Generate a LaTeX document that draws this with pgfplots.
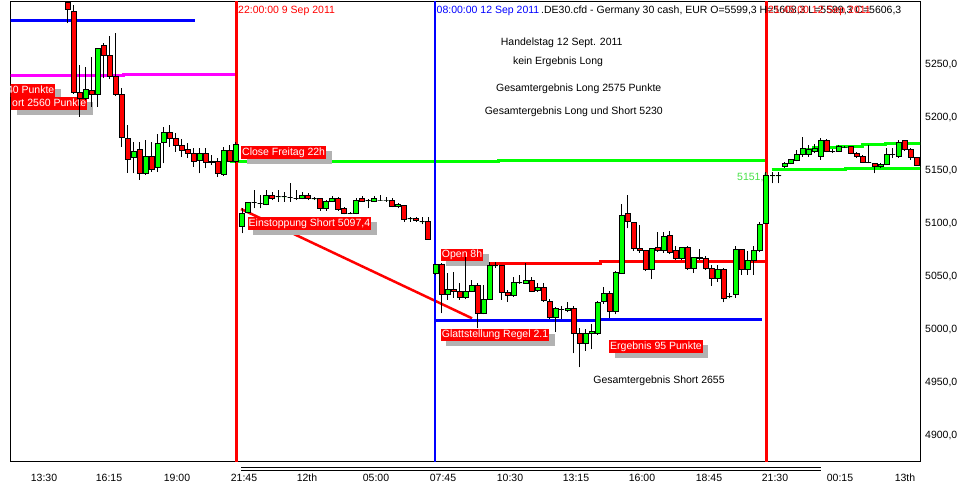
\documentclass[border=0pt]{standalone}
\usepackage{pgfplots}
\usepackage{pgfplotstable}
\pgfplotsset{compat=1.18}
\usepackage{fontspec}
\setmainfont{Liberation Sans}
\usetikzlibrary{shadows}
\definecolor{cgreen}{RGB}{0,255,0}
\definecolor{cred}{RGB}{255,0,0}
\definecolor{cblue}{RGB}{0,0,255}
\definecolor{cmag}{RGB}{255,0,255}
\definecolor{cshadow}{RGB}{178,178,178}
\definecolor{lgreen}{RGB}{70,225,70}
\pgfdeclareplotmark{nothing}{}
\newcommand\tofixed[1]{\begingroup\pgfkeys{/pgf/fpu=true,/pgf/fpu/output format=fixed}\pgfmathparse{#1}\xdef\tmpfixed{\pgfmathresult}\endgroup\let#1\tmpfixed}

\pgfplotstableread{
x o h l c
67.7 5308.5 5309 5288.7 5301.3
73.7 5299.7 5306 5222 5223.6
79.7 5223 5249.4 5200.6 5217.3
85.7 5217.3 5247.8 5216.4 5225.8
91.7 5224.9 5257.2 5210 5221.1
97.7 5221.1 5265.1 5210 5265.1
103.7 5267.3 5270.4 5237 5257.9
109.7 5257.9 5276.7 5236 5238.3
115.7 5238.3 5279.3 5220 5221.1
121.7 5221.7 5227.4 5172.3 5181.2
127.7 5180.2 5192.8 5147.8 5159.8
133.7 5162.3 5177 5147.2 5167.6
139.7 5169.2 5177 5140.9 5146.6
145.7 5147.2 5178.6 5145.6 5163.5
151.7 5163.5 5177 5148.7 5151.1
157.7 5152.5 5184.3 5148.7 5175.5
163.7 5176 5191.2 5156.6 5185.9
169.7 5185.9 5192.8 5172.3 5180.2
175.7 5180.2 5184.9 5167.6 5173.2
181.7 5173.2 5179.6 5162.9 5168.5
187.7 5169.2 5175.5 5161.4 5166.1
193.7 5165.4 5171.4 5153.4 5158.2
199.7 5159.1 5170.8 5147.2 5165.4
205.7 5165.4 5170.8 5151.9 5157.6
211.7 5158.2 5164.5 5155 5157.6
217.7 5158.2 5162 5144 5146.6
223.7 5145.6 5172.3 5145 5168.5
229.7 5168.5 5174 5158 5158.2
235.7 5158.2 5177 5157 5173.9
242 5096.8 5114.2 5090.6 5109.5
248 5110.4 5120.4 5110 5119.9
254 5119.9 5131.5 5114.2 5119.9
260 5118.9 5126.7 5114.2 5118.9
266 5117.3 5131.5 5117 5126.1
272 5126.1 5129.9 5122 5123.6
278 5125.1 5131.5 5120.4 5125.1
284 5125.1 5129.9 5120.4 5125.1
290 5124.5 5137.8 5120.4 5124.5
296 5123.6 5131.5 5122 5123.6
302 5123 5129.9 5122.5 5126.7
308 5126.7 5128.3 5122 5123
314 5123 5124.5 5122 5123
320 5123 5123.6 5111.7 5114.2
326 5114.2 5122 5111.7 5120.4
332 5120.4 5126.1 5120 5123
338 5123 5124.9 5111.7 5113.5
344 5114.2 5115.8 5108.5 5108.8
350 5109.5 5111 5108.5 5109.5
356 5108.8 5124 5108.5 5122
362 5123 5126.1 5120 5120.4
368 5121.1 5123 5114.2 5121.1
374 5120.4 5126.1 5120 5123
380 5122 5127 5121.5 5122
386 5122 5125 5120.4 5122
392 5122 5124 5115 5115.7
398 5115.7 5119 5114 5118
404 5116.6 5117.7 5101.5 5103.2
410 5104.1 5105.5 5101.5 5104.1
416 5104.1 5105.5 5101.5 5102.2
422 5101.5 5105.5 5099 5101.5
428 5101.5 5105.5 5084.3 5085.2
435.7 5052.2 5062 5051 5061.6
441.7 5061.6 5062.3 5015.1 5032.4
447.7 5032.4 5052.9 5027.7 5037.8
453.7 5037.8 5054.4 5029.6 5035.5
459.7 5035.5 5043.7 5027.7 5030.2
465.7 5030.2 5068.5 5028.6 5035.5
471.7 5035.5 5046.6 5035 5040.9
477.7 5040.9 5043.4 5001 5014.5
483.7 5014.5 5041.8 5014 5028.3
489.7 5028.3 5063.8 5028 5059.8
495.7 5059.8 5063.8 5058 5059.8
501.7 5059.8 5061 5027.7 5034.6
507.7 5034.6 5037.1 5026.1 5031.5
513.7 5031.5 5049.7 5030.8 5044
519.7 5044 5051.3 5043 5044
525.7 5043.4 5062.3 5043 5045.9
531.7 5045.9 5049.7 5035 5035.5
537.7 5036.5 5043.4 5035.5 5039.7
543.7 5039.7 5043.4 5026 5027
549.7 5026.1 5029 5010 5011.4
555.7 5011.4 5021 4997.8 5019.8
561.7 5018.9 5022 5010 5018.9
567.7 5017.4 5026.1 5016 5019.8
573.7 5019.8 5022 4977.4 4995.6
579.7 4995.6 5001 4964.2 4986.8
585.7 4986.8 5000 4980 4996.3
591.7 4996 5005 4981 4997.5
597.7 4996.3 5027 4995 5025.5
603.7 5026.1 5040.2 5024 5034
609.7 5034 5036 5010.7 5016.4
615.7 5016.4 5055 5014 5053.8
621.7 5052.9 5118 5052 5107.2
627.7 5109.5 5126.7 5095.3 5101.5
633.7 5101 5101.5 5073.9 5076.5
639.7 5076.5 5098.4 5072 5073.9
645.7 5073.9 5074 5055 5056.6
651.7 5056 5077 5047.2 5076.5
657.7 5077.4 5092.1 5073 5074.2
663.7 5073.9 5092.1 5072 5087.4
669.7 5088.3 5092.8 5071 5072.7
675.7 5073.9 5079 5065.5 5067
681.7 5067 5078 5065 5077.4
687.7 5077.4 5078.6 5056 5057.6
693.7 5057.6 5068 5052.9 5067.6
699.7 5067.6 5075.5 5065 5066.4
705.7 5067 5069.5 5056 5057.6
711.7 5057.6 5060.6 5040.9 5048.1
717.7 5048.1 5060.6 5045 5056
723.7 5056.6 5057.8 5025.5 5029.3
729.7 5030.8 5034 5029.3 5030.8
735.7 5032.4 5078.6 5030 5075.5
741.7 5075.5 5076 5051.3 5056
747.7 5056 5073.9 5051.3 5064.5
753.7 5064.5 5078.6 5051.3 5073.9
759.7 5073.9 5101 5073 5099.1
765.7 5100 5148 5099 5144.7
772.5 5145 5148.7 5137.8 5145
778.5 5145 5148.7 5137.8 5145
784.5 5153.4 5157.6 5152.5 5156
790.5 5156 5161 5155.5 5159.8
796.5 5158.8 5169.2 5158.5 5165.1
802.5 5164.5 5181.2 5162.9 5170.8
808.5 5165.1 5173.9 5163 5169.2
814.5 5167.3 5175 5166 5171
820.5 5162.9 5180.8 5159.8 5177.7
826.5 5177.7 5180 5167 5168.2
832.5 5168.2 5170 5166.5 5168.2
838.5 5168.2 5173.9 5167.5 5172.3
844.5 5172 5173 5171 5172
850.5 5172.3 5173 5165 5166.1
856.5 5166.1 5167 5162 5162.9
862.5 5162.9 5164 5157 5157.6
868.5 5157.6 5173.9 5156.6 5157.6
874.5 5156.6 5157 5147.2 5153.4
880.5 5153.4 5157 5152.5 5155.7
886.5 5155.7 5171.1 5155 5165.1
892.5 5165.1 5170.8 5162 5165.1
898.5 5163 5178.6 5162 5176.5
904.5 5177.7 5178.6 5168 5169.2
910.5 5169.2 5170.8 5159.8 5162.3
916.5 5162.3 5163 5154 5155
}\candles

\pgfplotsset{
  candle/.style={
    scatter, only marks, mark=nothing,
    visualization depends on={\thisrow{h}-\thisrow{o} \as \dh},
    visualization depends on={\thisrow{l}-\thisrow{o} \as \dl},
    visualization depends on={\thisrow{c}-\thisrow{o} \as \dc},
    scatter/@pre marker code/.code={%
      \tofixed\dh\tofixed\dl\tofixed\dc
      \ifdim \dc pt<0pt \def\cfill{cred}\else\def\cfill{cgreen}\fi
      \draw[black, line width=1bp] (axis direction cs:0,\dl) -- (axis direction cs:0,\dh);
      \filldraw[fill=\cfill, draw=black, line width=1bp] (axis direction cs:-2.5,0) rectangle (axis direction cs:2.5,\dc);
    },
    scatter/@post marker code/.code={},
  },
}
\tikzset{
  lab/.style={fill=cred, text=white, inner xsep=1bp, inner ysep=1.2bp, text height=8bp, text depth=2.3bp,
    font=\fontsize{10.5bp}{12bp}\selectfont,
    drop shadow={shadow xshift=5.5bp, shadow yshift=-5bp, fill=cshadow, opacity=1}},
  txt/.style={inner sep=0pt, font=\fontsize{10.5bp}{12bp}\selectfont},
}

\begin{document}
\begin{tikzpicture}
\useasboundingbox (0,0) rectangle (961bp,487bp);
\begin{axis}[
  at={(10.5bp,25.5bp)}, anchor=south west,
  scale only axis, width=909.5bp, height=459.5bp,
  xmin=10.5, xmax=920, ymin=4875.3, ymax=5308.8,
  axis line style={black, line width=1bp},
  major tick length=0pt,
  tick style={draw=none},
  xtick={44,109,177,244,307,376,443,510,576,642,709,775,840,905},
  xticklabels={13:30,16:15,19:00,21:45,12th,05:00,07:45,10:30,13:15,16:00,18:45,21:30,00:15,13th},
  ytick={4900,4950,5000,5050,5100,5150,5200,5250},
  yticklabels={{4900,0},{4950,0},{5000,0},{5050,0},{5100,0},{5150,0},{5200,0},{5250,0}},
  yticklabel pos=right,
  tick label style={font=\fontsize{10.5bp}{12bp}\selectfont},
  yticklabel style={anchor=west, inner sep=0pt, xshift=5bp},
  xticklabel style={anchor=north, inner sep=0pt, yshift=-12.5bp},
  /pgf/number format/assume math mode=true,
]
% candles
\addplot[candle] table[x=x, y=o] {\candles};

% horizontal and vertical lines
\addplot[cblue, line width=3bp] coordinates {(5,5290.9) (195,5290.9)};
\addplot[cmag, line width=3bp, const plot] coordinates {(5,5239.7) (123,5240.6) (236,5240.6)};
\addplot[cgreen, line width=3bp, const plot] coordinates {(230,5158.5) (498,5159.5) (766,5159.5)};
\addplot[cred, line width=2.5bp] coordinates {(241,5113.5) (472,5010.4)};
\addplot[cred, line width=3bp, const plot] coordinates {(488,5062.3) (600,5063.8) (766,5063.8)};
\addplot[cblue, line width=3bp, const plot] coordinates {(435,5007.9) (597,5008.8) (762,5008.8)};
\addplot[cgreen, line width=3bp, const plot] coordinates {(771.5,5151.0) (845,5151.9) (925,5151.9)};
\addplot[cgreen, line width=3bp, const plot] coordinates {(800,5170.1) (813,5171.4) (837,5172.7) (862,5173.9) (885,5175.5) (925,5175.5)};
\addplot[cred, line width=3bp] coordinates {(236.5,4860) (236.5,5320)};
\addplot[cblue, line width=2bp] coordinates {(435,4860) (435,5320)};
\addplot[cred, line width=3bp] coordinates {(766.5,4860) (766.5,5320)};

% header texts
\node[txt, anchor=base west, text=cred] at (axis cs:238,5297.5) {22:00:00 9 Sep 2011};
\node[txt, anchor=base west, text=cblue] at (axis cs:436.5,5297.5) {08:00:00 12 Sep 2011};
\node[txt, anchor=base west] at (axis cs:541,5297.5) {.DE30.cfd - Germany 30 cash, EUR O=5599,3 H=5608,3 L=5599,3 C=5606,3};
\node[txt, anchor=base west, text=cred] at (axis cs:768,5297.5) {21:45:00 12 Sep 2011};

% black annotations
\node[txt, anchor=base] at (axis cs:561.7,5267.6) {Handelstag 12 Sept. 2011};
\node[txt, anchor=base] at (axis cs:558,5250.0) {kein Ergebnis Long};
\node[txt, anchor=base] at (axis cs:578.7,5224.8) {Gesamtergebnis Long 2575 Punkte};
\node[txt, anchor=base] at (axis cs:573.8,5202.2) {Gesamtergebnis Long und Short 5230};
\node[txt, anchor=base] at (axis cs:659,4949.2) {Gesamtergebnis Short 2655};
\node[txt, anchor=base west, text=lgreen] at (axis cs:737,5140.8) {5151,1};

% red labels
\node[lab, anchor=north east] at (axis cs:55.5,5231.4) {40 Punkte};
\node[lab, anchor=north east] at (axis cs:87.5,5219.2) {ort 2560 Punkte};
\node[lab, anchor=north west] at (axis cs:241,5172.9) {Close Freitag 22h};
\node[lab, anchor=north west] at (axis cs:247.5,5105.9) {Einstoppung Short 5097,4};
\node[lab, anchor=north west] at (axis cs:440.7,5076.4) {Open 8h};
\node[lab, anchor=north west] at (axis cs:440.7,5000.7) {Glattstellung Regel 2.1};
\node[lab, anchor=north west] at (axis cs:609,4989.8) {Ergebnis 95 Punkte};
\end{axis}
\draw[black, line width=0.9bp] (241bp,19.4bp) -- (820.5bp,19.4bp);
\draw[black, line width=0.9bp] (241bp,16.7bp) -- (820.5bp,16.7bp);
\end{tikzpicture}
\end{document}
